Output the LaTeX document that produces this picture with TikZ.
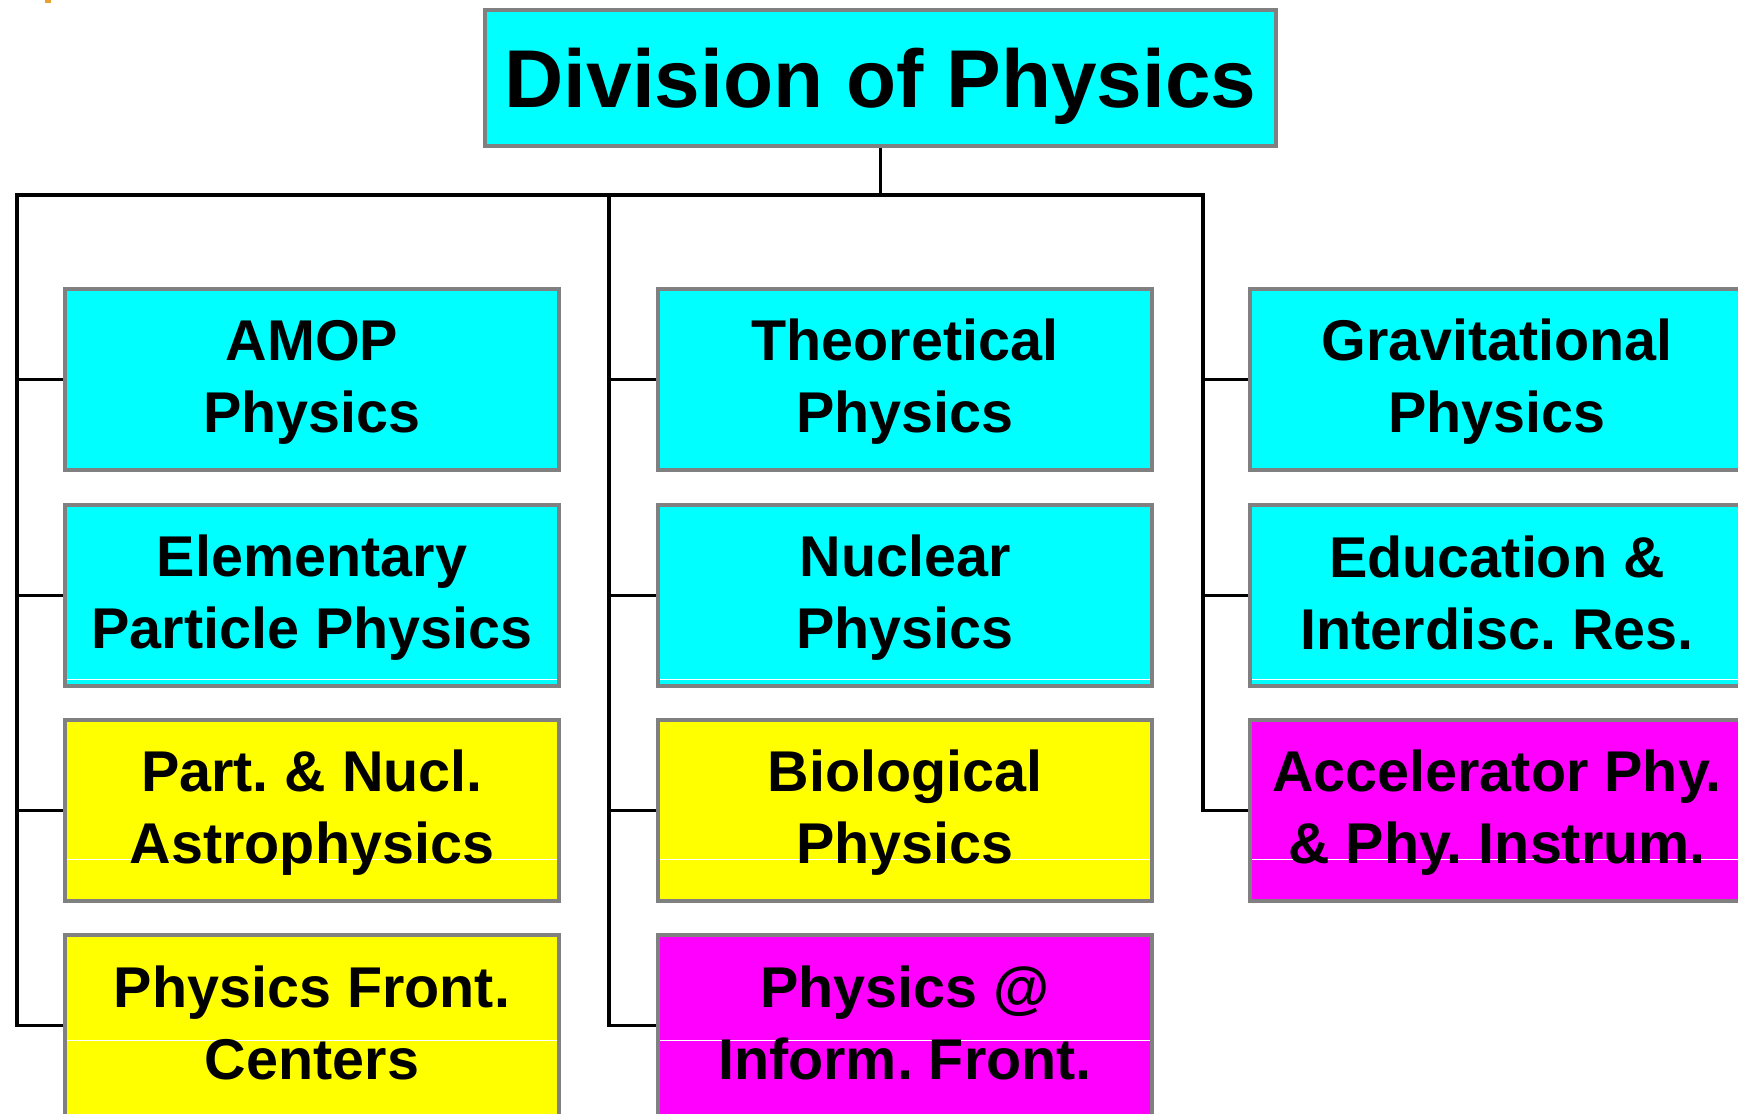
\documentclass[tikz,border=0pt]{standalone}
\usepackage{fontspec}
\setmainfont{Liberation Sans}
\frenchspacing
\definecolor{boxcyan}{RGB}{0,255,255}
\definecolor{boxyellow}{RGB}{255,255,0}
\definecolor{boxmagenta}{RGB}{255,0,255}
\definecolor{boxgray}{RGB}{128,128,128}
\definecolor{markorange}{RGB}{232,160,48}
\newcommand{\twolines}[2]{\rule{0pt}{46pt}#1\\#2\rule[-11pt]{0pt}{11pt}}
\tikzset{
  unitbox/.style={draw=boxgray, line width=3.3pt, minimum width=494pt, minimum height=181pt,
    inner sep=0pt, align=center, font=\fontsize{57.5}{72}\selectfont\bfseries},
  cyanbox/.style={unitbox, fill=boxcyan},
  yellowbox/.style={unitbox, fill=boxyellow},
  magentabox/.style={unitbox, fill=boxmagenta},
  conn/.style={line width=3.4pt, black},
  glint/.style={line width=0.8pt, white},
  glintat/.style={path picture={\draw[glint]
     ([yshift=-#1pt]path picture bounding box.west) --
     ([yshift=-#1pt]path picture bounding box.east);}},
}
\begin{document}
\begin{tikzpicture}[x=1pt, y=-1pt]
\useasboundingbox (0,0) rectangle (1738,1114);
\fill[markorange] (45,0) rectangle (51,3);
% title
\node[draw=boxgray, line width=3.3pt, fill=boxcyan, minimum width=791pt, minimum height=136pt,
  inner sep=0pt, text height=62pt, text depth=4pt, font=\fontsize{82}{100}\selectfont\bfseries]
  (title) at (880.5,78) {Division of Physics};
% boxes
\node[cyanbox] (a1) at (312,379.5) {\twolines{AMOP}{Physics}};
\node[cyanbox, glintat=83.5] (a2) at (312,595.5) {\twolines{Elementary}{Particle Physics}};
\node[yellowbox, glintat=48.5] (a3) at (312,810.5) {\twolines{Part. \& Nucl.}{Astrophysics}};
\node[yellowbox, glintat=14.5] (a4) at (312,1025.5) {\twolines{Physics Front.}{Centers}};
\node[cyanbox] (b1) at (905,379.5) {\twolines{Theoretical}{Physics}};
\node[cyanbox, glintat=83.5] (b2) at (905,595.5) {\twolines{Nuclear}{Physics}};
\node[yellowbox, glintat=48.5] (b3) at (905,810.5) {\twolines{Biological}{Physics}};
\node[magentabox, glintat=14.5] (b4) at (905,1025.5) {\twolines{Physics @}{Inform. Front.}};
\node[cyanbox] (c1) at (1497,379.5) {\twolines{Gravitational}{Physics}};
\node[cyanbox, glintat=83.5] (c2) at (1497,595.5) {\twolines{Education \&}{Interdisc. Res.}};
\node[magentabox, glintat=48.5] (c3) at (1497,810.5) {\twolines{Accelerator Phy.}{\& Phy. Instrum.}};
% connectors
\coordinate (busL) at (17,195);
\coordinate (busM) at (609,195);
\coordinate (busR) at (1203,195);
\draw[conn] (title.south) -- (title.south |- busL);
\draw[conn] (a4.west) -| (busL) -- (busR) |- (c3.west);
\draw[conn] (busM) |- (b4.west);
\foreach \n in {a1,a2,a3}{\draw[conn] (busL |- \n.west) -- (\n.west);}
\foreach \n in {b1,b2,b3}{\draw[conn] (busM |- \n.west) -- (\n.west);}
\foreach \n in {c1,c2}{\draw[conn] (busR |- \n.west) -- (\n.west);}
\end{tikzpicture}
\end{document}
